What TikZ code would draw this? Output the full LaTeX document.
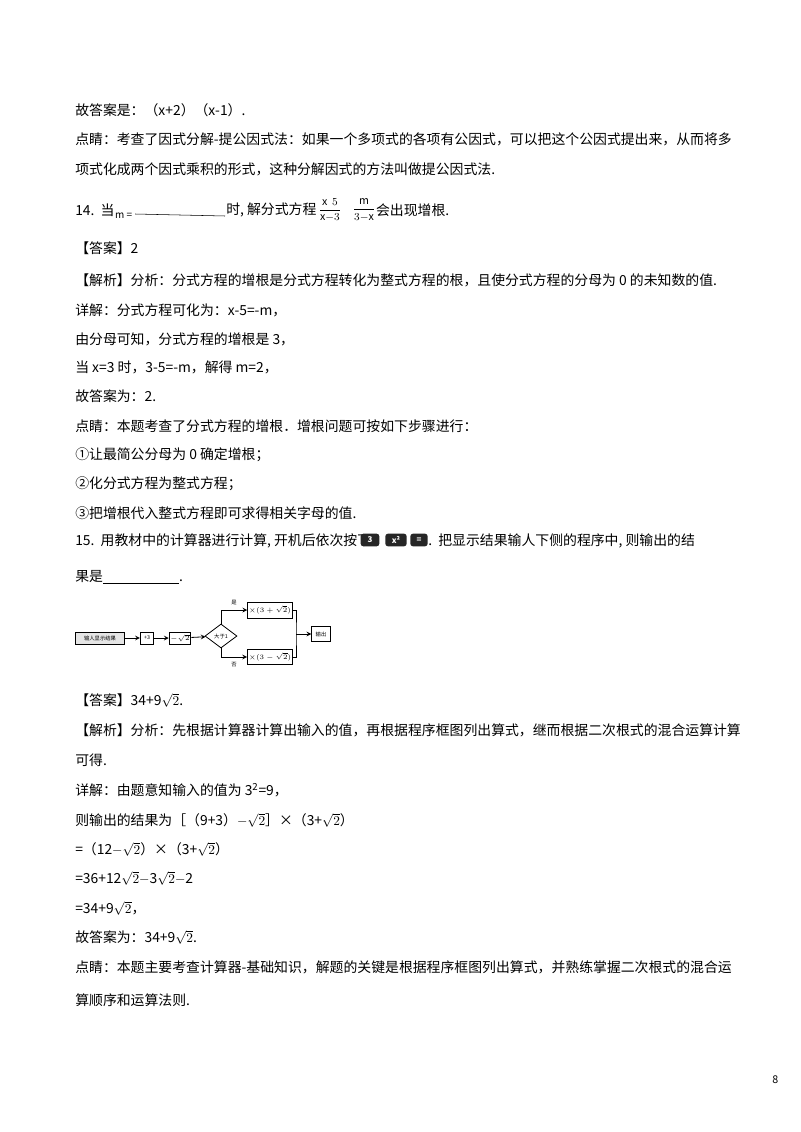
\documentclass[tikz,border=0pt]{standalone}
\usepackage{fontspec}
\setmainfont{Noto Sans CJK SC}
\usepackage{amsmath}
\usetikzlibrary{shapes.geometric}
\tikzset{
  txt/.style={anchor=west,inner sep=0pt,font=\fontsize{10.4pt}{12pt}\selectfont},
  box/.style={draw,line width=0.6pt,inner sep=1pt,minimum height=9pt,font=\fontsize{4pt}{5pt}\selectfont},
  key/.style={fill=black!85,rounded corners=2pt,text=white,inner sep=1pt,minimum height=9.5pt,font=\bfseries\fontsize{6pt}{6pt}\selectfont},
  flow/.style={line width=0.6pt,->,>=stealth}
}
\begin{document}
\begin{tikzpicture}[x=0.75pt,y=-0.75pt]
        \useasboundingbox (0,0) rectangle (800,1132);
        \node [txt] (l1) at (75,110) {故答案是：（x+2）（x-1）.};
        \node [txt] (l2) at (75,139) {点睛：考查了因式分解-提公因式法：如果一个多项式的各项有公因式，可以把这个公因式提出来，从而将多};
        \node [txt] (l3) at (75,169) {项式化成两个因式乘积的形式，这种分解因式的方法叫做提公因式法.};
        % question 14
        \node [txt] (q14) at (75,210) {14.\ \ 当};
        \node [txt,font=\fontsize{7.5pt}{8pt}\selectfont] (m) at (q14.east) [yshift=-4pt,anchor=west] {m =};
        \coordinate (blank) at (225,216);
        \draw [line width=0.4pt] (m.east) ++(2pt,1pt) -- (blank);
        \node [txt] (q14b) at (226,210) {时, 解分式方程};
        \node [inner sep=0pt,font=\fontsize{8pt}{9pt}\selectfont] (f1) at (330,210) {$\dfrac{\mathrm{x}\ \ 5}{\mathrm{x}{-}3}$};
        \node [inner sep=0pt,font=\fontsize{8pt}{9pt}\selectfont] (f2) at (364,210) {$\dfrac{\mathrm{m}}{3{-}\mathrm{x}}$};
        \node [txt] (q14c) at (f2.east) {会出现增根.};
        \node [txt] (l5) at (75,248) {【答案】2};
        \node [txt] (l6) at (75,280) {【解析】分析：分式方程的增根是分式方程转化为整式方程的根，且使分式方程的分母为 0 的未知数的值.};
        \node [txt] (l7) at (75,310) {详解：分式方程可化为：x-5=-m，};
        \node [txt] (l8) at (75,339) {由分母可知，分式方程的增根是 3，};
        \node [txt] (l9) at (75,367) {当 x=3 时，3-5=-m，解得 m=2，};
        \node [txt] (l10) at (75,396) {故答案为：2.};
        \node [txt] (l11) at (75,426) {点睛：本题考查了分式方程的增根．增根问题可按如下步骤进行：};
        \node [txt] (l12) at (75,455) {①让最简公分母为 0 确定增根；};
        \node [txt] (l13) at (75,484) {②化分式方程为整式方程；};
        \node [txt] (l14) at (75,513) {③把增根代入整式方程即可求得相关字母的值.};
        % question 15
        \node [txt] (q15) at (75,541) {15.\ \ 用教材中的计算器进行计算, 开机后依次按下};
        \node [key,minimum width=14pt] (k1) at (370,540) {3};
        \node [key,minimum width=16pt] (k2) at (396,540) {x²};
        \node [key,minimum width=13pt] (k3) at (419,540) {=};
        \node [txt] (q15b) at (428,541) {.\ \ 把显示结果输人下侧的程序中, 则输出的结};
        \node [txt] (q15c) at (75,577) {果是\rule[-1.5pt]{57pt}{0.4pt}.};
        % flowchart
        \node [box,minimum width=37pt,fill=black!10] (in) at (100,638) {输人显示结果};
        \node [box,minimum width=10pt] (add) at (147,638) {+3};
        \node [box,minimum width=15pt] (sub) at (180,638) {$-\sqrt{2}$};
        \node [draw,diamond,aspect=1.4,line width=0.6pt,inner sep=0pt,minimum width=24pt,minimum height=18pt,font=\fontsize{4pt}{5pt}\selectfont] (dec) at (221,636) {大于1};
        \node [box,minimum width=24pt,minimum height=12pt] (yes) at (270,610) {$\times(3+\sqrt{2})$};
        \node [box,minimum width=24pt,minimum height=11pt] (no) at (270,657) {$\times(3-\sqrt{2})$};
        \node [box,minimum width=14pt,minimum height=11pt] (out) at (321,634) {输出};
        \coordinate (join) at (296,634);
        \draw [flow] (in) -- (add);
        \draw [flow] (add) -- (sub);
        \draw [flow] (sub) -- (dec);
        \draw [flow] (dec.north) |- (yes) node [pos=0.75,above,font=\fontsize{4pt}{5pt}\selectfont] {是};
        \draw [flow] (dec.south) |- (no) node [pos=0.75,below,font=\fontsize{4pt}{5pt}\selectfont] {否};
        \draw [line width=0.6pt] (yes.east) -| (join) |- (no.east);
        \draw [flow] (join) -- (out);
        \node [txt] (a15) at (75,700) {【答案】34+9$\sqrt{2}$.};
        \node [txt] (b1) at (75,730) {【解析】分析：先根据计算器计算出输入的值，再根据程序框图列出算式，继而根据二次根式的混合运算计算};
        \node [txt] (b2) at (75,760) {可得.};
        \node [txt] (b3) at (75,790) {详解：由题意知输入的值为 3\textsuperscript{2}=9，};
        \node [txt] (b4) at (75,820) {则输出的结果为［（9+3）$-\sqrt{2}$］×（3+$\sqrt{2}$）};
        \node [txt] (b5) at (75,849) {=（12$-\sqrt{2}$）×（3+$\sqrt{2}$）};
        \node [txt] (b6) at (75,878) {=36+12$\sqrt{2}$$-$3$\sqrt{2}$$-$2};
        \node [txt] (b7) at (75,908) {=34+9$\sqrt{2}$，};
        \node [txt] (b8) at (75,937) {故答案为：34+9$\sqrt{2}$.};
        \node [txt] (b9) at (75,967) {点睛：本题主要考查计算器-基础知识，解题的关键是根据程序框图列出算式，并熟练掌握二次根式的混合运};
        \node [txt] (b10) at (75,1000) {算顺序和运算法则.};
        \node [txt,font=\fontsize{8pt}{9pt}\selectfont] (pg) at (772,1080) {8};
\end{tikzpicture}
\end{document}
